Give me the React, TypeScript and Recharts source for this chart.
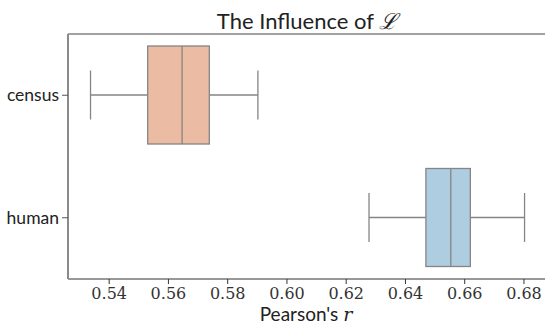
import { ComposedChart, Bar, XAxis, YAxis } from "recharts";

// box statistics
const groups = ["census", "human"];
const whiskerLow = [0.5337, 0.6277];
const quartile1 = [0.553, 0.6469];
const medians = [0.5646, 0.6553];
const quartile3 = [0.5738, 0.6619];
const whiskerHigh = [0.5902, 0.6802];
const boxColors = ["#EBBBA3", "#AFCDE0"];
const xTicks = [0.54, 0.56, 0.58, 0.6, 0.62, 0.64, 0.66, 0.68];

const data = groups.map((name, i) => ({
  name,
  range: [whiskerLow[i], whiskerHigh[i]],
  q1: quartile1[i],
  median: medians[i],
  q3: quartile3[i],
  color: boxColors[i],
}));

const EDGE = "#858585";

function BoxShape(props: any) {
  const { x, y, width, height, payload } = props;
  const [lo, hi] = payload.range;
  const px = (v: number) => x + ((v - lo) / (hi - lo)) * width;
  const cy = y + height / 2;
  const capH = height / 2;
  const b1 = px(payload.q1);
  const b3 = px(payload.q3);
  const m = px(payload.median);
  return (
    <g>
      <line x1={x} x2={b1} y1={cy} y2={cy} stroke={EDGE} strokeWidth={1.3} />
      <line x1={b3} x2={x + width} y1={cy} y2={cy} stroke={EDGE} strokeWidth={1.3} />
      <line x1={x} x2={x} y1={cy - capH / 2} y2={cy + capH / 2} stroke={EDGE} strokeWidth={1.3} />
      <line
        x1={x + width}
        x2={x + width}
        y1={cy - capH / 2}
        y2={cy + capH / 2}
        stroke={EDGE}
        strokeWidth={1.3}
      />
      <rect x={b1} y={y} width={b3 - b1} height={height} fill={payload.color} stroke={EDGE} strokeWidth={1.3} />
      <line x1={m} x2={m} y1={y} y2={y + height} stroke={EDGE} strokeWidth={1.3} />
    </g>
  );
}

export default function App() {
  return (
    <div style={{ position: "absolute", left: 0, top: 0, width: 545, height: 325, background: "#fff" }}>
      <ComposedChart
        width={545}
        height={325}
        data={data}
        layout="vertical"
        margin={{ top: 33, right: 0, bottom: 0, left: 0 }}
      >
        <XAxis
          type="number"
          domain={[0.5261, 0.6871]}
          ticks={xTicks}
          tickFormatter={(v: number) => v.toFixed(2)}
          allowDataOverflow
          height={46}
          tickSize={5}
          tickMargin={4}
          stroke="#333"
          tick={{ fill: "#333", fontSize: 16, fontFamily: "'DejaVu Serif'" }}
        />
        <XAxis
          xAxisId="top"
          orientation="top"
          type="number"
          domain={[0.5261, 0.6871]}
          ticks={xTicks}
          allowDataOverflow
          height={1}
          tick={false}
          tickLine={false}
          axisLine={{ stroke: "#444" }}
        />
        <YAxis
          type="category"
          dataKey="name"
          width={68}
          tickSize={6}
          tickMargin={3}
          axisLine={{ stroke: "#8a8a8a", strokeWidth: 2 }}
          tickLine={{ stroke: "#555" }}
          tick={{ fill: "#222", fontSize: 17.5, fontFamily: "Lato" }}
        />
        <Bar dataKey="range" barSize={98} shape={<BoxShape />} isAnimationActive={false} />
      </ComposedChart>
      <svg
        width={545}
        height={325}
        style={{ position: "absolute", left: 0, top: 0, pointerEvents: "none" }}
      >
        <text x={307} y={29} textAnchor="middle" fontSize={22} fontFamily="Lato" fill="#222">
          The Influence of <tspan fontFamily="DejaVu Serif" fontStyle="italic">ℒ</tspan>
        </text>
        <text x={306} y={321} textAnchor="middle" fontSize={19} fontFamily="Lato" fill="#222">
          Pearson's <tspan fontFamily="DejaVu Serif" fontStyle="italic">r</tspan>
        </text>
      </svg>
    </div>
  );
}
